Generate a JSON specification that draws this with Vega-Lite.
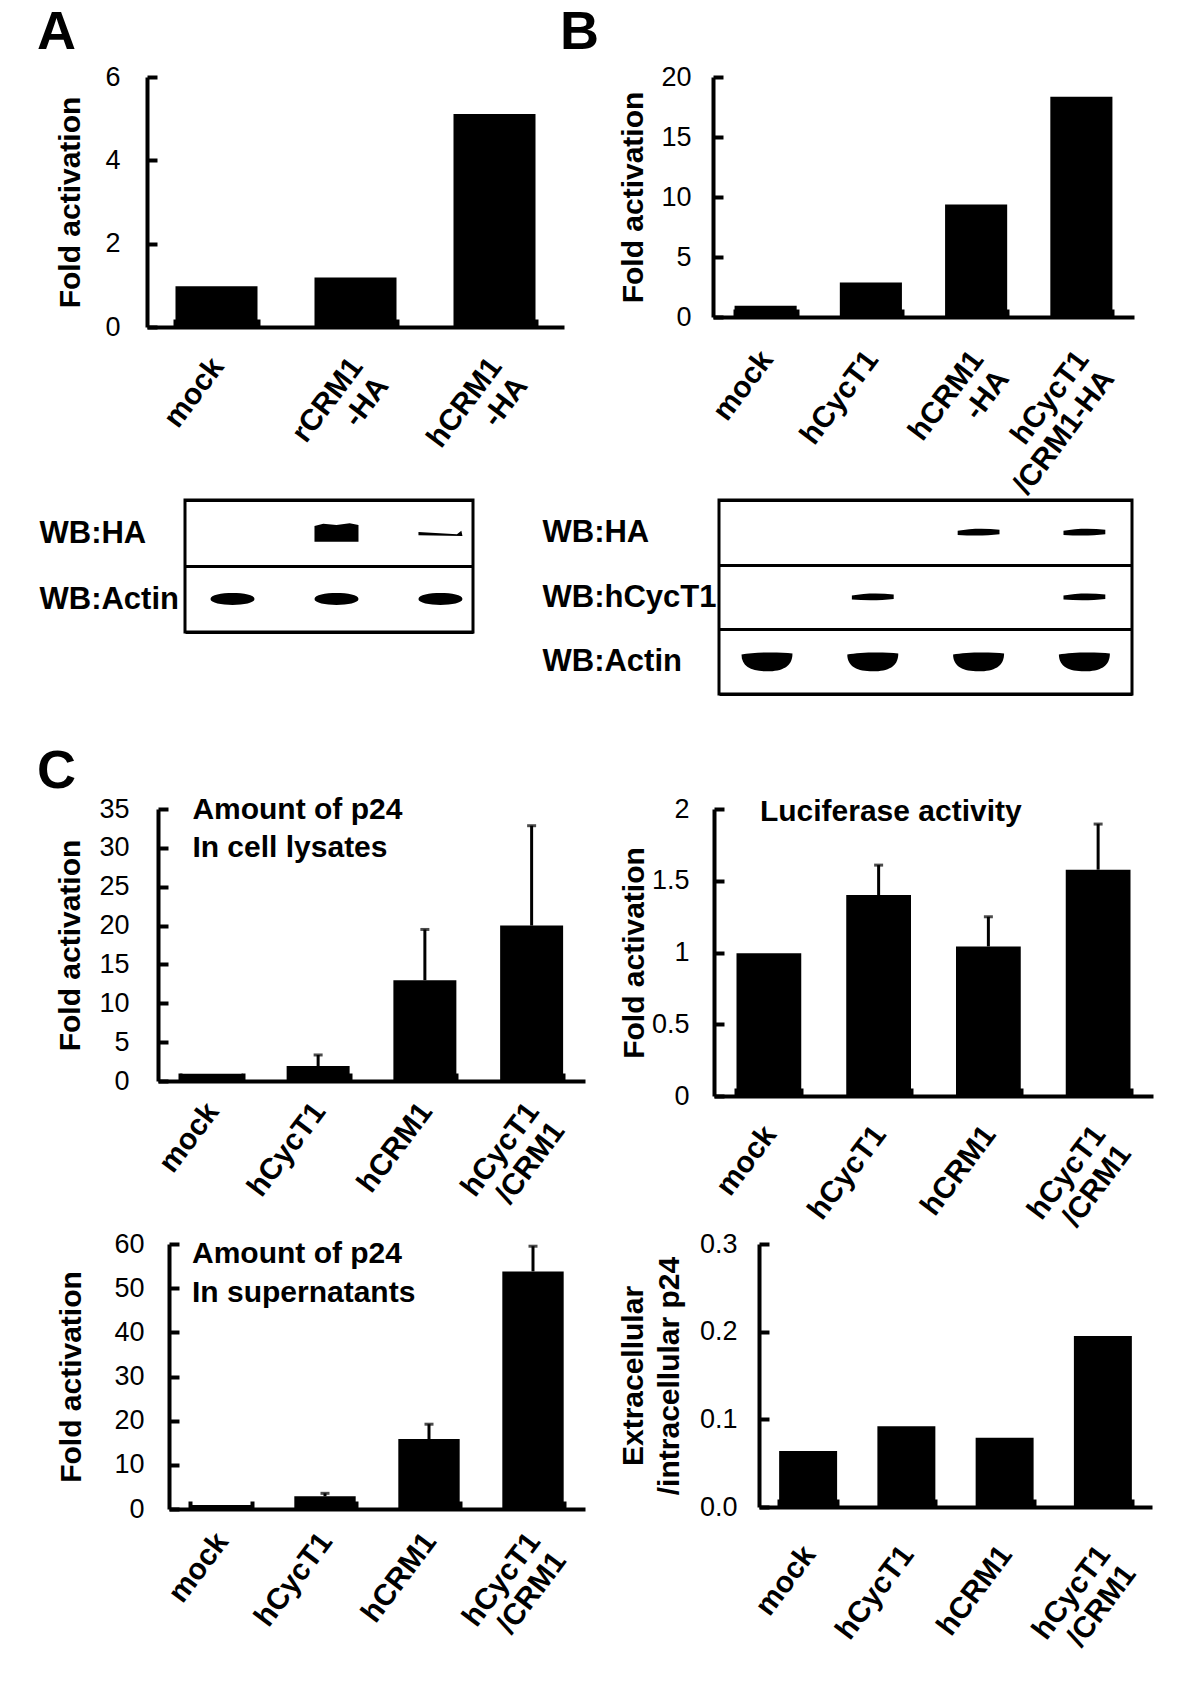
{
  "$schema": "https://vega.github.io/schema/vega-lite/v6.json",
  "background": "white",
  "padding": {"left": 36, "top": 6, "right": 5, "bottom": 5},
  "config": {
    "view": {"stroke": null},
    "font": "Liberation Sans",
    "axis": {"domainColor": "black", "domainWidth": 4, "tickColor": "black", "tickWidth": 4, "labelColor": "black", "titleColor": "black", "labelFont": "Liberation Sans", "titleFont": "Liberation Sans", "grid": false, "labelOverlap": false, "labelFlush": false, "labelLimit": 0},
    "axisX": {"title": null, "labelAngle": -53, "labelAlign": "right", "labelBaseline": "top", "labelFontSize": 30, "labelFontWeight": "bold", "labelLineHeight": 32, "labelOffset": -11, "tickSize": -8},
    "axisY": {"labelFontSize": 27, "tickSize": -10, "titleFontSize": 30, "titleFontWeight": "bold", "titleBaseline": "alphabetic"},
    "title": {"font": "Liberation Sans", "fontSize": 54, "fontWeight": "bold", "color": "black", "anchor": "start", "frame": "group", "baseline": "alphabetic"},
    "text": {"font": "Liberation Sans", "fontWeight": "bold", "fontSize": 30, "color": "black", "align": "left", "baseline": "middle", "lineBreak": "|"}
  },
  "spacing": 49,
  "vconcat": [
    {
      "spacing": -21,
      "vconcat": [
        {
          "spacing": 0,
          "hconcat": [
            {"width": 1, "height": 1, "data": {"values": []}, "mark": "point"},
            {
              "spacing": -4,
              "hconcat": [
                {
                  "width": 417, "height": 250,
                  "title": {"text": "A", "dx": -110, "offset": 3},
                  "data": {"values": [
                    {"cond": "mock", "value": 0.98},
                    {"cond": "rCRM1|-HA", "value": 1.19},
                    {"cond": "hCRM1|-HA", "value": 5.11}
                  ]},
                  "mark": {"type": "bar", "color": "black"},
                  "encoding": {
                    "x": {"field": "cond", "type": "nominal", "sort": null, "scale": {"paddingInner": 0.41, "paddingOuter": 0.205}, "axis": {"labelExpr": "split(datum.label, '|')", "labelPadding": 33, "tickBand": "extent"}},
                    "y": {"field": "value", "type": "quantitative", "scale": {"domain": [0, 6], "nice": false}, "axis": {"title": "Fold activation", "values": [0, 2, 4, 6], "titleX": -68, "labelPadding": 37}}
                  }
                },
                {
                  "width": 421, "height": 240,
                  "title": {"text": "B", "dx": -153, "offset": 3},
                  "data": {"values": [
                    {"cond": "mock", "value": 0.93},
                    {"cond": "hCycT1", "value": 2.87},
                    {"cond": "hCRM1|-HA", "value": 9.37},
                    {"cond": "hCycT1|/CRM1-HA", "value": 18.36}
                  ]},
                  "mark": {"type": "bar", "color": "black"},
                  "encoding": {
                    "x": {"field": "cond", "type": "nominal", "sort": null, "scale": {"paddingInner": 0.41, "paddingOuter": 0.205}, "axis": {"labelExpr": "split(datum.label, '|')", "labelPadding": 36, "tickBand": "extent"}},
                    "y": {"field": "value", "type": "quantitative", "scale": {"domain": [0, 20], "nice": false}, "axis": {"title": "Fold activation", "values": [0, 5, 10, 15, 20], "titleX": -71, "labelPadding": 32}}
                  }
                }
              ]
            }
          ]
        },
        {
          "spacing": 0,
          "hconcat": [
            {"width": 1, "height": 1, "data": {"values": []}, "mark": "point"},
            {
              "spacing": 65,
              "hconcat": [
                {
                  "width": 288, "height": 132,
                  "view": {"stroke": "black", "strokeWidth": 3},
                  "data": {"values": [
                    {"antibody": "WB:HA", "lane": 2, "band": "heavy"},
                    {"antibody": "WB:HA", "lane": 3, "band": "faint"},
                    {"antibody": "WB:Actin", "lane": 1, "band": "oval"},
                    {"antibody": "WB:Actin", "lane": 2, "band": "oval"},
                    {"antibody": "WB:Actin", "lane": 3, "band": "oval"}
                  ]},
                  "mark": {"type": "point", "filled": true, "color": "black", "opacity": 1, "size": 1936, "strokeWidth": 0},
                  "encoding": {
                    "x": {"field": "lane", "type": "quantitative", "scale": {"domain": [0.543, 3.313], "nice": false, "zero": false}, "axis": null},
                    "y": {"field": "antibody", "type": "nominal", "sort": ["WB:HA", "WB:Actin"], "scale": {"type": "band", "paddingInner": 0, "paddingOuter": 0},
                          "axis": {"title": null, "domain": false, "ticks": false, "grid": true, "gridColor": "black", "gridWidth": 3, "gridOpacity": 1, "tickBand": "extent", "labelAlign": "left", "labelBaseline": "middle", "labelPadding": 146, "labelFontSize": 31, "labelFontWeight": "bold"}},
                    "shape": {"field": "band", "type": "nominal", "legend": null, "scale": {
                      "domain": ["heavy", "faint", "oval", "bowl", "line"],
                      "range": [
                        "M-1,-0.32 L-0.6,-0.42 L0,-0.36 L0.6,-0.44 L1,-0.36 L1,0.4 L-1,0.4 Z",
                        "M-1,-0.04 L0.75,0.06 L0.95,-0.1 L1,0.14 L-1,0.1 Z",
                        "M-1,0 C-1,-0.36 1,-0.36 1,0 C1,0.36 -1,0.36 -1,0 Z",
                        "M-1,-0.28 C-0.5,-0.38 0.5,-0.38 1,-0.32 C1,0.2 0.6,0.38 0,0.38 C-0.6,0.38 -1,0.2 -1,-0.28 Z",
                        "M-0.82,-0.06 C-0.3,-0.16 0.3,-0.16 0.82,-0.1 L0.82,0.08 C0.3,0.14 -0.3,0.14 -0.82,0.1 Z"
                      ]}}
                  }
                },
                {
                  "width": 413, "height": 194,
                  "view": {"stroke": "black", "strokeWidth": 3},
                  "data": {"values": [
                    {"antibody": "WB:HA", "lane": 3, "band": "line"},
                    {"antibody": "WB:HA", "lane": 4, "band": "line"},
                    {"antibody": "WB:hCycT1", "lane": 2, "band": "line"},
                    {"antibody": "WB:hCycT1", "lane": 4, "band": "line"},
                    {"antibody": "WB:Actin", "lane": 1, "band": "bowl"},
                    {"antibody": "WB:Actin", "lane": 2, "band": "bowl"},
                    {"antibody": "WB:Actin", "lane": 3, "band": "bowl"},
                    {"antibody": "WB:Actin", "lane": 4, "band": "bowl"}
                  ]},
                  "mark": {"type": "point", "filled": true, "color": "black", "opacity": 1, "size": 2601, "strokeWidth": 0},
                  "encoding": {
                    "x": {"field": "lane", "type": "quantitative", "scale": {"domain": [0.5465, 4.45], "nice": false, "zero": false}, "axis": null},
                    "y": {"field": "antibody", "type": "nominal", "sort": ["WB:HA", "WB:hCycT1", "WB:Actin"], "scale": {"type": "band", "paddingInner": 0, "paddingOuter": 0},
                          "axis": {"title": null, "domain": false, "ticks": false, "grid": true, "gridColor": "black", "gridWidth": 3, "gridOpacity": 1, "tickBand": "extent", "labelAlign": "left", "labelBaseline": "middle", "labelPadding": 177, "labelFontSize": 31, "labelFontWeight": "bold"}},
                    "shape": {"field": "band", "type": "nominal", "legend": null, "scale": {
                      "domain": ["heavy", "faint", "oval", "bowl", "line"],
                      "range": [
                        "M-1,-0.32 L-0.6,-0.42 L0,-0.36 L0.6,-0.44 L1,-0.36 L1,0.4 L-1,0.4 Z",
                        "M-1,-0.04 L0.75,0.06 L0.95,-0.1 L1,0.14 L-1,0.1 Z",
                        "M-1,0 C-1,-0.36 1,-0.36 1,0 C1,0.36 -1,0.36 -1,0 Z",
                        "M-1,-0.28 C-0.5,-0.38 0.5,-0.38 1,-0.32 C1,0.2 0.6,0.38 0,0.38 C-0.6,0.38 -1,0.2 -1,-0.28 Z",
                        "M-0.82,-0.06 C-0.3,-0.16 0.3,-0.16 0.82,-0.1 L0.82,0.08 C0.3,0.14 -0.3,0.14 -0.82,0.1 Z"
                      ]}}
                  }
                }
              ]
            }
          ]
        }
      ]
    },
    {
      "spacing": -15,
      "vconcat": [
        {
          "spacing": 0,
          "hconcat": [
            {"width": 1, "height": 1, "data": {"values": []}, "mark": "point"},
            {
              "spacing": 33,
              "hconcat": [
                {
                  "width": 427, "height": 272,
                  "title": {"text": "C", "dx": -121, "offset": -4},
                  "data": {"values": [
                    {"cond": "mock", "value": 0.94},
                    {"cond": "hCycT1", "value": 1.93, "upper": 3.35},
                    {"cond": "hCRM1", "value": 12.97, "upper": 19.5},
                    {"cond": "hCycT1|/CRM1", "value": 20.0, "upper": 32.85}
                  ]},
                  "encoding": {
                    "x": {"field": "cond", "type": "nominal", "sort": null, "scale": {"paddingInner": 0.41, "paddingOuter": 0.205}, "axis": {"labelExpr": "split(datum.label, '|')", "labelPadding": 24, "tickBand": "extent"}}
                  },
                  "layer": [
                    {"mark": {"type": "bar", "color": "black"},
                     "encoding": {"y": {"field": "value", "type": "quantitative", "scale": {"domain": [0, 35], "nice": false}, "axis": {"title": "Fold activation", "values": [0, 5, 10, 15, 20, 25, 30, 35], "titleX": -79, "labelPadding": 39}}}},
                    {"transform": [{"filter": "isValid(datum.upper)"}],
                     "mark": {"type": "rule", "color": "black", "strokeWidth": 3},
                     "encoding": {"y": {"field": "value", "type": "quantitative", "axis": {"title": "Fold activation", "values": [0, 5, 10, 15, 20, 25, 30, 35], "titleX": -79, "labelPadding": 39}}, "y2": {"field": "upper"}}},
                    {"transform": [{"filter": "isValid(datum.upper)"}],
                     "mark": {"type": "tick", "color": "black", "thickness": 3, "size": 9},
                     "encoding": {"y": {"field": "upper", "type": "quantitative", "axis": {"title": "Fold activation", "values": [0, 5, 10, 15, 20, 25, 30, 35], "titleX": -79, "labelPadding": 39}}}},
                    {"data": {"values": [{"note": "Amount of p24|In cell lysates"}]},
                     "mark": {"type": "text", "dx": -19, "dy": 1, "lineHeight": 38},
                     "encoding": {"x": {"datum": "mock"}, "y": {"datum": 35, "axis": {"title": "Fold activation", "values": [0, 5, 10, 15, 20, 25, 30, 35], "titleX": -79, "labelPadding": 39}}, "text": {"field": "note"}}}
                  ]
                },
                {
                  "width": 439, "height": 287,
                  "data": {"values": [
                    {"cond": "mock", "value": 0.995},
                    {"cond": "hCycT1", "value": 1.40, "upper": 1.609},
                    {"cond": "hCRM1", "value": 1.042, "upper": 1.249},
                    {"cond": "hCycT1|/CRM1", "value": 1.577, "upper": 1.895}
                  ]},
                  "encoding": {
                    "x": {"field": "cond", "type": "nominal", "sort": null, "scale": {"paddingInner": 0.41, "paddingOuter": 0.205}, "axis": {"labelExpr": "split(datum.label, '|')", "labelPadding": 32, "tickBand": "extent"}}
                  },
                  "layer": [
                    {"mark": {"type": "bar", "color": "black"},
                     "encoding": {"y": {"field": "value", "type": "quantitative", "scale": {"domain": [0, 2], "nice": false}, "axis": {"title": "Fold activation", "values": [0, 0.5, 1, 1.5, 2], "format": "~g", "titleX": -71, "labelPadding": 35}}}},
                    {"transform": [{"filter": "isValid(datum.upper)"}],
                     "mark": {"type": "rule", "color": "black", "strokeWidth": 3},
                     "encoding": {"y": {"field": "value", "type": "quantitative", "axis": {"title": "Fold activation", "values": [0, 0.5, 1, 1.5, 2], "format": "~g", "titleX": -71, "labelPadding": 35}}, "y2": {"field": "upper"}}},
                    {"transform": [{"filter": "isValid(datum.upper)"}],
                     "mark": {"type": "tick", "color": "black", "thickness": 3, "size": 9},
                     "encoding": {"y": {"field": "upper", "type": "quantitative", "axis": {"title": "Fold activation", "values": [0, 0.5, 1, 1.5, 2], "format": "~g", "titleX": -71, "labelPadding": 35}}}},
                    {"data": {"values": [{"note": "Luciferase activity"}]},
                     "mark": {"type": "text", "dx": -9, "dy": 3},
                     "encoding": {"x": {"datum": "mock"}, "y": {"datum": 2, "axis": {"title": "Fold activation", "values": [0, 0.5, 1, 1.5, 2], "format": "~g", "titleX": -71, "labelPadding": 35}}, "text": {"field": "note"}}}
                  ]
                }
              ]
            }
          ]
        },
        {
          "spacing": 0,
          "hconcat": [
            {"width": 1, "height": 1, "data": {"values": []}, "mark": "point"},
            {
              "spacing": 33,
              "hconcat": [
                {
                  "width": 416, "height": 265,
                  "title": {"text": " ", "dx": -132, "offset": -20, "fontSize": 2},
                  "data": {"values": [
                    {"cond": "mock", "value": 0.9},
                    {"cond": "hCycT1", "value": 2.87, "upper": 3.55},
                    {"cond": "hCRM1", "value": 15.85, "upper": 19.2},
                    {"cond": "hCycT1|/CRM1", "value": 53.8, "upper": 59.5}
                  ]},
                  "encoding": {
                    "x": {"field": "cond", "type": "nominal", "sort": null, "scale": {"paddingInner": 0.41, "paddingOuter": 0.205}, "axis": {"labelExpr": "split(datum.label, '|')", "labelPadding": 26, "tickBand": "extent"}}
                  },
                  "layer": [
                    {"mark": {"type": "bar", "color": "black"},
                     "encoding": {"y": {"field": "value", "type": "quantitative", "scale": {"domain": [0, 60], "nice": false}, "axis": {"title": "Fold activation", "values": [0, 10, 20, 30, 40, 50, 60], "titleX": -89, "labelPadding": 35}}}},
                    {"transform": [{"filter": "isValid(datum.upper)"}],
                     "mark": {"type": "rule", "color": "black", "strokeWidth": 3},
                     "encoding": {"y": {"field": "value", "type": "quantitative", "axis": {"title": "Fold activation", "values": [0, 10, 20, 30, 40, 50, 60], "titleX": -89, "labelPadding": 35}}, "y2": {"field": "upper"}}},
                    {"transform": [{"filter": "isValid(datum.upper)"}],
                     "mark": {"type": "tick", "color": "black", "thickness": 3, "size": 9},
                     "encoding": {"y": {"field": "upper", "type": "quantitative", "axis": {"title": "Fold activation", "values": [0, 10, 20, 30, 40, 50, 60], "titleX": -89, "labelPadding": 35}}}},
                    {"data": {"values": [{"note": "Amount of p24|In supernatants"}]},
                     "mark": {"type": "text", "dx": -29, "dy": 10, "lineHeight": 39},
                     "encoding": {"x": {"datum": "mock"}, "y": {"datum": 60, "axis": {"title": "Fold activation", "values": [0, 10, 20, 30, 40, 50, 60], "titleX": -89, "labelPadding": 35}}, "text": {"field": "note"}}}
                  ]
                },
                {
                  "width": 393, "height": 263,
                  "data": {"values": [
                    {"cond": "mock", "value": 0.064},
                    {"cond": "hCycT1", "value": 0.092},
                    {"cond": "hCRM1", "value": 0.079},
                    {"cond": "hCycT1|/CRM1", "value": 0.195}
                  ]},
                  "mark": {"type": "bar", "color": "black"},
                  "encoding": {
                    "x": {"field": "cond", "type": "nominal", "sort": null, "scale": {"paddingInner": 0.41, "paddingOuter": 0.205}, "axis": {"labelExpr": "split(datum.label, '|')", "labelPadding": 41, "tickBand": "extent"}},
                    "y": {"field": "value", "type": "quantitative", "scale": {"domain": [0, 0.3], "nice": false}, "axis": {"title": ["Extracellular", "/intracellular p24"], "titleLineHeight": 36, "values": [0, 0.1, 0.2, 0.3], "format": ".1f", "titleX": -117, "labelPadding": 32}}
                  }
                }
              ]
            }
          ]
        }
      ]
    }
  ]
}
